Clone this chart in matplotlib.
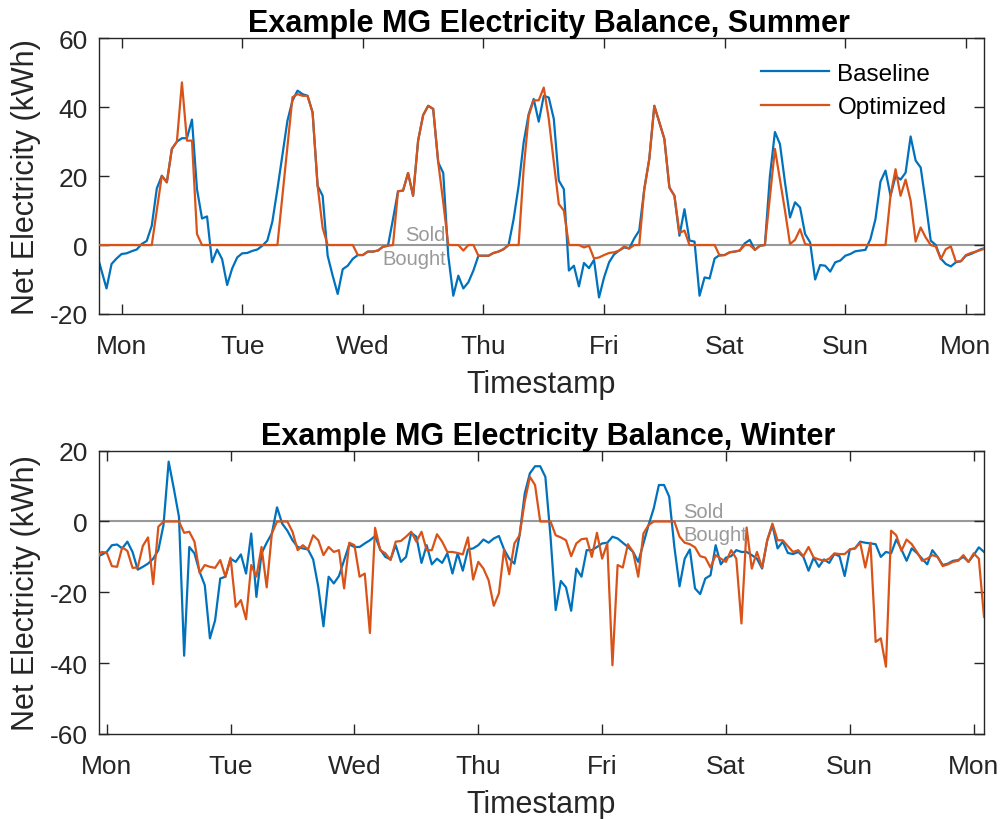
import numpy as np
import matplotlib
matplotlib.use("Agg")
import matplotlib.pyplot as plt

plt.rcParams['font.family'] = ['Liberation Sans', 'DejaVu Sans']
plt.rcParams['axes.unicode_minus'] = False

# ---- data: hourly net electricity (kWh), hour 0 = Monday 00:00 ----
day_labels = ["Mon", "Tue", "Wed", "Thu", "Fri", "Sat", "Sun", "Mon"]

summer_start = -5   # first sample hour
summer_baseline = [
    -2.2, -7.4, -12.6, -5.5, -3.9, -2.6, -2.4, -1.8, -1.3, 0.3, 1.2, 5.6,
    16.4, 20.1, 18.2, 27.9, 30.0, 31.0, 31.0, 36.4, 16.2, 7.7, 8.3, -5.0,
    -1.3, -4.1, -11.6, -6.8, -3.6, -2.4, -2.3, -1.7, -1.3, -0.2, 1.3, 6.8,
    16.2, 26.1, 36.1, 41.9, 44.8, 43.8, 43.3, 38.5, 17.2, 14.3, -3.1, -8.9,
    -14.2, -7.0, -6.0, -4.0, -2.9, -2.9, -1.9, -1.9, -1.6, -0.5, -0.2, 7.5,
    15.6, 15.8, 20.9, 14.3, 30.3, 37.7, 40.4, 39.5, 24.0, 20.9, -3.1, -14.7,
    -8.9, -12.6, -10.8, -7.4, -3.1, -3.1, -3.1, -2.3, -1.9, -1.2, 0.0, 7.5,
    17.2, 29.8, 38.0, 42.4, 35.8, 43.3, 42.8, 36.6, 18.7, 16.2, -7.4, -6.0,
    -12.0, -5.2, -6.7, -4.3, -15.2, -9.4, -5.0, -2.7, -1.6, -0.7, -1.0, 1.9,
    4.2, 16.2, 25.0, 40.4, 35.6, 30.8, 16.7, 14.3, 2.7, 10.4, 1.3, 1.0,
    -14.7, -9.4, -9.7, -3.9, -2.9, -2.9, -2.1, -1.9, -1.6, 0.5, 1.5, -1.4,
    -0.2, 0.0, 20.0, 32.8, 29.3, 18.2, 8.0, 12.4, 10.9, 3.2, 0.8, -10.0,
    -5.8, -6.0, -7.7, -5.0, -4.5, -3.1, -2.6, -1.8, -1.6, -1.4, 1.7, 7.5,
    18.4, 21.6, 14.3, 20.0, 19.0, 21.0, 31.5, 24.5, 22.5, 12.4, 1.3, 0.0,
    -3.9, -5.5, -6.2, -5.0, -4.7, -3.1, -2.6, -1.9, -1.2, -0.8,
]
summer_optimized = [
    0, 0, 0, 0, 0, 0, 0, 0, 0, 0, 0, 0,
    10.0, 20.1, 18.2, 27.9, 30.0, 47.2, 30.3, 30.3, 3.2, 0, 0, 0,
    0, 0, 0, 0, 0, 0, 0, 0, 0, 0, 0, 0,
    0, 14.3, 28.6, 42.9, 43.8, 43.3, 43.3, 38.5, 17.2, 5.0, 0, 0,
    0, 0, 0, 0, -2.9, -2.9, -1.9, -1.9, -1.6, -0.5, -0.2, 0,
    15.6, 15.8, 20.9, 14.3, 30.3, 37.7, 40.4, 39.5, 24.0, 12.4, 0, 0,
    0, -1.6, 0, 0, -3.1, -3.1, -3.1, -2.3, -1.9, -1.2, 0, 0,
    0, 22.0, 37.5, 42.0, 42.0, 45.7, 36.6, 24.0, 11.9, 10.0, 0, 0,
    0, -0.7, -0.2, -3.9, -3.6, -2.9, -2.3, -2.1, -1.6, -0.4, -1.0, 0,
    0, 16.2, 25.0, 40.4, 35.6, 30.8, 16.7, 14.3, 3.5, 4.2, 0, 0,
    0, 0, 0, 0, -3.1, -2.9, -2.1, -1.9, -1.6, 0, 0, -1.4,
    -0.2, 0, 14.0, 27.9, 19.0, 10.0, 0.3, 1.5, 4.6, 0.3, 0, 0,
    0, 0, 0, 0, 0, 0, 0, 0, 0, 0, 0, 0,
    0, 0, 14.3, 22.0, 14.3, 19.0, 12.9, 1.0, 5.1, 2.2, 0, -0.4,
    -4.1, -1.2, -0.4, -4.8, -4.7, -2.9, -2.3, -1.9, -1.4, -1.0,
]

winter_start = -2
winter_baseline = [
    -10.0, -9.4, -8.6, -6.7, -6.5, -7.6, -5.7, -8.6, -13.6, -12.8, -11.9, -10.5,
    -8.1, -1.0, 16.9, 9.3, 1.3, -37.9, -7.2, -9.0, -14.2, -18.0, -33.0, -27.9,
    -16.1, -15.6, -10.5, -11.4, -9.3, -14.7, -3.4, -21.3, -9.0, -6.0, -3.4, 4.0,
    -0.6, -2.6, -5.3, -7.2, -7.6, -7.9, -10.7, -18.5, -29.6, -15.6, -17.5, -15.4,
    -10.9, -6.5, -7.2, -7.2, -6.2, -5.3, -4.1, -7.9, -10.0, -10.7, -6.7, -11.4,
    -10.0, -3.2, -4.3, -11.7, -6.7, -12.1, -10.5, -11.7, -9.0, -14.7, -9.0, -13.9,
    -7.9, -7.6, -6.7, -5.1, -6.0, -4.8, -4.1, -7.9, -10.5, -11.9, -3.9, 7.9,
    13.6, 15.6, 15.6, 12.6, -4.3, -25.0, -16.8, -18.6, -25.2, -13.3, -15.6, -8.1,
    -8.1, -7.2, -6.2, -6.0, -4.3, -4.8, -6.0, -7.2, -8.6, -11.4, -6.2, -1.0,
    3.7, 10.3, 10.3, 7.0, -7.2, -18.3, -10.5, -7.9, -18.9, -20.5, -16.1, -15.2,
    -6.7, -12.1, -10.2, -9.8, -8.1, -8.6, -8.6, -9.5, -10.5, -13.3, -5.3, -1.0,
    -7.6, -5.7, -8.9, -9.2, -8.6, -10.0, -13.9, -10.2, -12.8, -10.7, -11.7, -9.2,
    -9.8, -15.4, -7.9, -7.6, -5.7, -6.0, -6.2, -6.4, -10.0, -8.6, -9.0, -5.1,
    -7.9, -11.1, -7.6, -8.9, -10.5, -12.1, -8.1, -10.0, -12.3, -11.9, -11.1, -10.9,
    -10.0, -11.4, -9.5, -7.3, -8.6,
]
winter_optimized = [
    -10.5, -8.6, -8.8, -12.6, -12.8, -7.3, -8.3, -13.1, -13.0, -6.9, -4.5, -17.7,
    -1.5, 0, 0, 0, 0, -3.2, -2.9, -5.7, -14.5, -12.3, -12.8, -13.1,
    -10.9, -15.6, -10.2, -24.1, -22.2, -27.6, -12.3, -15.6, -7.2, -18.6, -3.4, 0,
    0, 0, -2.9, -8.1, -6.7, -7.9, -3.9, -5.3, -9.5, -7.2, -8.6, -8.1,
    -18.9, -6.0, -6.7, -15.6, -14.7, -31.5, -1.8, -8.1, -9.0, -10.9, -5.7, -5.5,
    -4.3, -2.9, -5.7, -2.9, -8.1, -8.1, -3.6, -5.7, -8.6, -8.6, -8.9, -9.3,
    -4.5, -16.4, -11.4, -13.3, -16.6, -23.8, -20.3, -7.9, -14.9, -6.2, -3.9, 5.6,
    12.6, 10.3, 0, 0, 0, -3.9, -4.5, -5.3, -9.8, -6.2, -5.0, -4.8,
    -10.0, -3.2, -10.5, -6.2, -40.6, -12.3, -13.0, -6.4, -8.6, -15.6, -3.4, -1.0,
    0, 0, 0, 0, 0, -4.3, -6.0, -6.4, -7.3, -9.8, -10.2, -13.0,
    -9.5, -10.5, -11.4, -8.1, -10.5, -28.8, -1.7, -13.3, -8.6, -13.0, -5.3, -0.6,
    -5.3, -5.3, -7.0, -8.6, -8.1, -9.8, -7.2, -10.2, -10.7, -11.1, -10.5, -9.0,
    -9.2, -9.2, -7.9, -7.6, -6.0, -13.0, -6.0, -34.0, -33.0, -41.0, -2.6, -3.9,
    -8.3, -5.1, -6.4, -8.6, -11.1, -10.5, -9.5, -10.0, -12.6, -12.1, -11.4, -11.1,
    -9.5, -11.4, -9.0, -10.5, -26.9,
]

t_summer = summer_start + np.arange(len(summer_baseline))
t_winter = winter_start + np.arange(len(winter_baseline))

BLUE = '#0072BD'
ORANGE = '#D95319'
GRAY = '#999999'
DARK = '#262626'

fig = plt.figure(figsize=(10.05, 8.2), dpi=100)
ax1 = fig.add_axes([0.0985, 0.6159, 0.8806, 0.3362])
ax2 = fig.add_axes([0.0985, 0.1037, 0.8806, 0.3455])


def style_axes(ax, title, xlim, ylim, yticks):
    ax.set_xlim(*xlim)
    ax.set_ylim(*ylim)
    ax.set_xticks(np.arange(0, 169, 24))
    ax.set_xticklabels(day_labels)
    ax.set_yticks(yticks)
    ax.tick_params(direction='in', length=7, width=1, colors=DARK,
                   labelsize=19, top=True, right=True)
    ax.tick_params(axis='x', pad=14.5)
    ax.tick_params(axis='y', pad=8)
    for s in ax.spines.values():
        s.set_color(DARK)
        s.set_linewidth(1.0)
    ax.set_title(title, fontsize=22, fontweight='bold', color='black', pad=5,
                 x=0.508)
    ax.set_xlabel("Timestamp", fontsize=22, color=DARK, labelpad=8)
    ax.set_ylabel("Net Electricity (kWh)", fontsize=22, color=DARK, labelpad=6.5)


def sold_bought(ax, x, ha):
    ax.annotate("Sold", xy=(x, 0), xytext=(0, 3.5), textcoords='offset points',
                ha=ha, va='baseline', fontsize=14.5, color=GRAY)
    ax.annotate("Bought", xy=(x, 0), xytext=(0, -2.5), textcoords='offset points',
                ha=ha, va='top', fontsize=14.5, color=GRAY)


# summer
ax1.axhline(0, color=GRAY, lw=1.5, zorder=1)
ax1.plot(t_summer, summer_baseline, color=BLUE, lw=1.6, label='Baseline', zorder=2)
ax1.plot(t_summer, summer_optimized, color=ORANGE, lw=1.6, label='Optimized', zorder=3)
style_axes(ax1, "Example MG Electricity Balance, Summer", (-4.5, 171.6), (-20, 60),
           np.arange(-20, 61, 20))
sold_bought(ax1, 64.5, 'right')
ax1.legend(loc='upper right', bbox_to_anchor=(0.985, 1.0), frameon=False,
           fontsize=17.5, handlelength=2.8, handletextpad=0.35, labelspacing=0.47,
           borderaxespad=0.6)

# winter
ax2.axhline(0, color=GRAY, lw=1.5, zorder=1)
ax2.plot(t_winter, winter_baseline, color=BLUE, lw=1.6, zorder=2)
ax2.plot(t_winter, winter_optimized, color=ORANGE, lw=1.6, zorder=3)
style_axes(ax2, "Example MG Electricity Balance, Winter", (-1.5, 170), (-60, 20),
           np.arange(-60, 21, 20))
sold_bought(ax2, 111.7, 'left')

fig.savefig("out.png", dpi=100)
